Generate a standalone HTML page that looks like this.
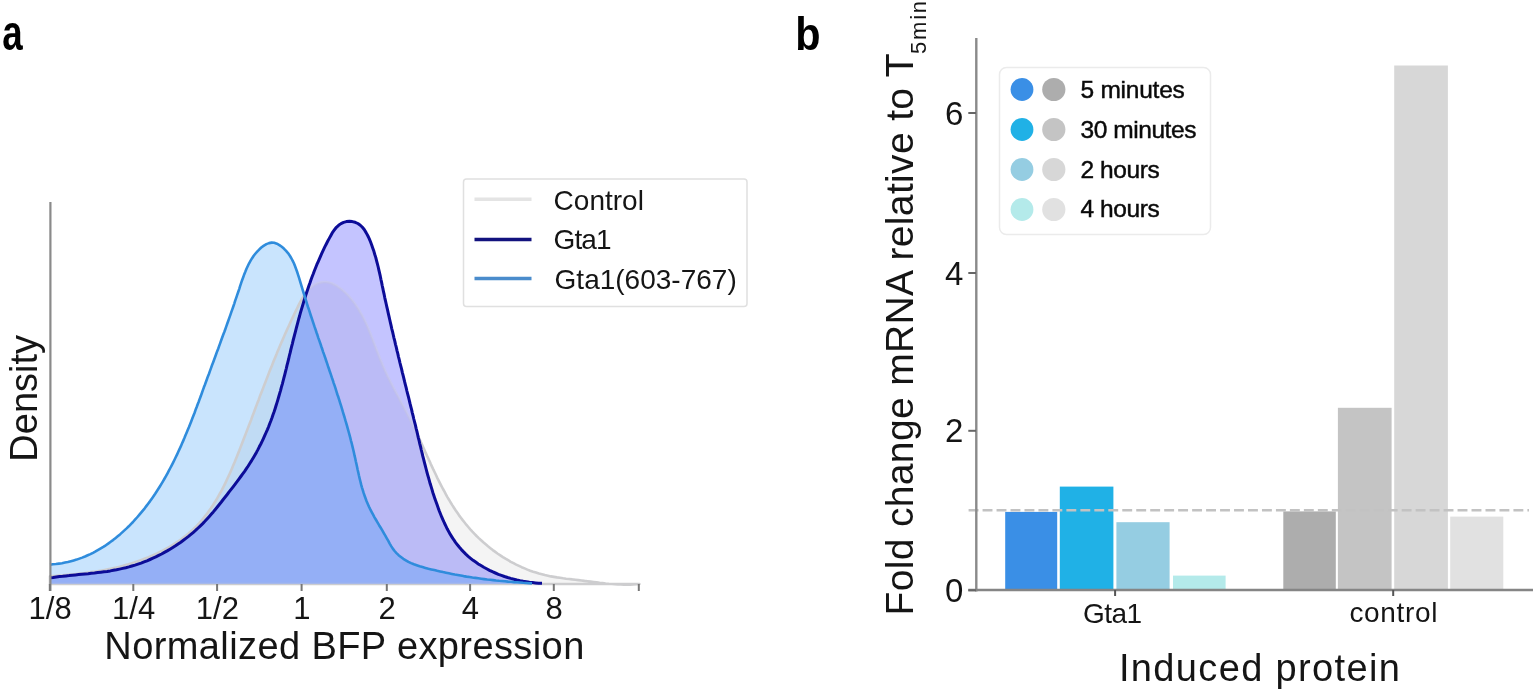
<!DOCTYPE html>
<html><head><meta charset="utf-8"><title>Figure</title><style>
html,body{margin:0;padding:0;background:#fff;width:1536px;height:692px;overflow:hidden}
svg{display:block}
text{font-family:"Liberation Sans",Arial,sans-serif}
</style></head><body>
<svg width="1536" height="692" viewBox="0 0 1536 692">
<rect width="1536" height="692" fill="#fff"/>
<g transform="translate(2.3,49.6) scale(0.74,1)"><text x="0.0" y="0.0" font-size="49.7" font-weight="bold" fill="#000">a</text></g>
<g transform="translate(795.3,49.6) scale(0.89,1)"><text x="0.0" y="0.0" font-size="46.5" font-weight="bold" fill="#000">b</text></g>
<defs><clipPath id="cpP"><path d="M50.0,577.8 L53.2,577.5 L56.3,577.0 L59.5,576.6 L62.7,576.3 L65.9,575.9 L69.1,575.6 L72.3,575.2 L75.4,574.9 L78.6,574.6 L81.8,574.3 L85.0,574.0 L88.2,573.7 L91.3,573.3 L94.5,573.0 L97.7,572.6 L100.8,572.2 L104.0,571.8 L107.1,571.4 L110.3,570.9 L113.4,570.3 L116.5,569.8 L119.6,569.1 L122.7,568.4 L125.8,567.7 L128.9,566.9 L131.9,566.0 L135.0,565.1 L138.0,564.1 L141.1,563.1 L144.1,561.9 L147.0,560.8 L150.0,559.5 L152.9,558.2 L155.8,556.9 L158.7,555.4 L161.6,554.0 L164.4,552.4 L167.2,550.9 L170.0,549.2 L172.8,547.5 L175.5,545.8 L178.1,544.0 L180.8,542.2 L183.4,540.3 L185.9,538.4 L188.5,536.4 L190.9,534.4 L193.4,532.3 L195.8,530.2 L198.1,528.0 L200.4,525.8 L202.7,523.6 L204.9,521.3 L207.0,519.0 L209.1,516.7 L211.2,514.3 L213.3,511.9 L215.3,509.5 L217.3,507.0 L219.3,504.5 L221.3,502.0 L223.2,499.5 L225.2,497.0 L227.2,494.5 L229.1,491.9 L231.1,489.4 L233.1,486.8 L235.0,484.3 L237.0,481.7 L238.9,479.1 L240.8,476.5 L242.7,473.9 L244.6,471.3 L246.4,468.7 L248.2,466.0 L249.9,463.3 L251.6,460.6 L253.2,457.9 L254.8,455.2 L256.4,452.4 L257.9,449.6 L259.3,446.8 L260.8,444.0 L262.2,441.2 L263.5,438.3 L264.8,435.4 L266.1,432.5 L267.4,429.6 L268.6,426.7 L269.7,423.7 L270.9,420.8 L272.0,417.8 L273.0,414.8 L274.1,411.8 L275.1,408.7 L276.0,405.7 L277.0,402.6 L277.9,399.6 L278.8,396.5 L279.7,393.4 L280.6,390.3 L281.4,387.2 L282.3,384.1 L283.1,381.0 L283.9,377.9 L284.7,374.8 L285.5,371.6 L286.3,368.5 L287.0,365.4 L287.8,362.3 L288.6,359.2 L289.3,356.0 L290.1,352.9 L290.8,349.8 L291.6,346.7 L292.4,343.6 L293.1,340.5 L293.9,337.5 L294.7,334.4 L295.5,331.3 L296.3,328.2 L297.1,325.2 L297.9,322.1 L298.7,319.0 L299.6,316.0 L300.4,312.9 L301.3,309.9 L302.2,306.9 L303.1,303.8 L304.0,300.8 L305.0,297.8 L305.9,294.7 L306.9,291.7 L307.9,288.7 L308.9,285.7 L310.0,282.7 L311.0,279.7 L312.1,276.7 L313.3,273.7 L314.4,270.7 L315.6,267.7 L316.8,264.7 L318.1,261.8 L319.4,258.8 L320.7,255.8 L322.0,252.8 L323.4,249.9 L324.8,246.9 L326.3,244.0 L327.8,241.0 L329.4,238.1 L331.0,235.2 L332.6,232.3 L334.5,229.7 L336.4,227.3 L338.6,225.3 L341.0,223.6 L343.6,222.4 L346.4,221.6 L349.4,221.3 L352.3,221.6 L355.2,222.3 L357.9,223.5 L360.3,225.2 L362.4,227.3 L364.4,229.8 L366.1,232.6 L367.7,235.5 L369.2,238.6 L370.5,241.8 L371.7,245.0 L372.8,248.2 L373.9,251.3 L374.8,254.5 L375.8,257.6 L376.6,260.8 L377.4,263.9 L378.2,267.0 L378.9,270.1 L379.6,273.2 L380.3,276.2 L380.9,279.3 L381.6,282.4 L382.2,285.5 L382.9,288.6 L383.5,291.7 L384.2,294.7 L384.8,297.8 L385.5,300.9 L386.2,304.0 L386.9,307.1 L387.6,310.2 L388.3,313.3 L389.0,316.4 L389.7,319.5 L390.4,322.6 L391.1,325.7 L391.8,328.8 L392.6,331.9 L393.3,335.0 L394.0,338.1 L394.8,341.2 L395.5,344.3 L396.3,347.4 L397.0,350.6 L397.8,353.7 L398.5,356.8 L399.3,359.9 L400.0,363.0 L400.8,366.1 L401.6,369.2 L402.3,372.3 L403.1,375.4 L403.9,378.6 L404.6,381.7 L405.4,384.8 L406.2,387.9 L406.9,391.0 L407.7,394.1 L408.5,397.2 L409.3,400.3 L410.0,403.4 L410.8,406.6 L411.6,409.7 L412.3,412.8 L413.1,415.9 L413.8,419.0 L414.6,422.1 L415.4,425.2 L416.1,428.3 L416.9,431.4 L417.6,434.5 L418.3,437.6 L419.1,440.7 L419.8,443.8 L420.6,446.9 L421.3,450.0 L422.1,453.1 L422.8,456.2 L423.6,459.2 L424.4,462.3 L425.2,465.4 L426.0,468.5 L426.8,471.6 L427.6,474.6 L428.5,477.7 L429.4,480.8 L430.2,483.8 L431.2,486.9 L432.1,489.9 L433.0,493.0 L434.0,496.0 L435.0,499.1 L436.1,502.1 L437.2,505.1 L438.3,508.2 L439.4,511.2 L440.6,514.2 L441.8,517.2 L443.1,520.1 L444.4,523.0 L445.8,525.9 L447.2,528.8 L448.7,531.6 L450.3,534.4 L452.0,537.1 L453.7,539.7 L455.5,542.3 L457.4,544.8 L459.4,547.3 L461.4,549.6 L463.6,551.9 L465.8,554.1 L468.2,556.3 L470.6,558.3 L473.1,560.3 L475.7,562.1 L478.3,563.9 L481.0,565.6 L483.8,567.3 L486.6,568.8 L489.5,570.3 L492.4,571.7 L495.4,573.0 L498.4,574.3 L501.4,575.4 L504.5,576.5 L507.6,577.5 L510.7,578.4 L513.8,579.2 L516.9,580.0 L520.1,580.7 L523.2,581.3 L526.3,581.8 L529.4,582.3 L532.6,582.6 L535.6,582.9 L538.7,583.2 L542.0,583.3 L542.0,584.0 L50.0,584.0 Z"/></clipPath><mask id="mkP"><rect width="1536" height="692" fill="#fff"/><path d="M50.0,577.8 L53.2,577.5 L56.3,577.0 L59.5,576.6 L62.7,576.3 L65.9,575.9 L69.1,575.6 L72.3,575.2 L75.4,574.9 L78.6,574.6 L81.8,574.3 L85.0,574.0 L88.2,573.7 L91.3,573.3 L94.5,573.0 L97.7,572.6 L100.8,572.2 L104.0,571.8 L107.1,571.4 L110.3,570.9 L113.4,570.3 L116.5,569.8 L119.6,569.1 L122.7,568.4 L125.8,567.7 L128.9,566.9 L131.9,566.0 L135.0,565.1 L138.0,564.1 L141.1,563.1 L144.1,561.9 L147.0,560.8 L150.0,559.5 L152.9,558.2 L155.8,556.9 L158.7,555.4 L161.6,554.0 L164.4,552.4 L167.2,550.9 L170.0,549.2 L172.8,547.5 L175.5,545.8 L178.1,544.0 L180.8,542.2 L183.4,540.3 L185.9,538.4 L188.5,536.4 L190.9,534.4 L193.4,532.3 L195.8,530.2 L198.1,528.0 L200.4,525.8 L202.7,523.6 L204.9,521.3 L207.0,519.0 L209.1,516.7 L211.2,514.3 L213.3,511.9 L215.3,509.5 L217.3,507.0 L219.3,504.5 L221.3,502.0 L223.2,499.5 L225.2,497.0 L227.2,494.5 L229.1,491.9 L231.1,489.4 L233.1,486.8 L235.0,484.3 L237.0,481.7 L238.9,479.1 L240.8,476.5 L242.7,473.9 L244.6,471.3 L246.4,468.7 L248.2,466.0 L249.9,463.3 L251.6,460.6 L253.2,457.9 L254.8,455.2 L256.4,452.4 L257.9,449.6 L259.3,446.8 L260.8,444.0 L262.2,441.2 L263.5,438.3 L264.8,435.4 L266.1,432.5 L267.4,429.6 L268.6,426.7 L269.7,423.7 L270.9,420.8 L272.0,417.8 L273.0,414.8 L274.1,411.8 L275.1,408.7 L276.0,405.7 L277.0,402.6 L277.9,399.6 L278.8,396.5 L279.7,393.4 L280.6,390.3 L281.4,387.2 L282.3,384.1 L283.1,381.0 L283.9,377.9 L284.7,374.8 L285.5,371.6 L286.3,368.5 L287.0,365.4 L287.8,362.3 L288.6,359.2 L289.3,356.0 L290.1,352.9 L290.8,349.8 L291.6,346.7 L292.4,343.6 L293.1,340.5 L293.9,337.5 L294.7,334.4 L295.5,331.3 L296.3,328.2 L297.1,325.2 L297.9,322.1 L298.7,319.0 L299.6,316.0 L300.4,312.9 L301.3,309.9 L302.2,306.9 L303.1,303.8 L304.0,300.8 L305.0,297.8 L305.9,294.7 L306.9,291.7 L307.9,288.7 L308.9,285.7 L310.0,282.7 L311.0,279.7 L312.1,276.7 L313.3,273.7 L314.4,270.7 L315.6,267.7 L316.8,264.7 L318.1,261.8 L319.4,258.8 L320.7,255.8 L322.0,252.8 L323.4,249.9 L324.8,246.9 L326.3,244.0 L327.8,241.0 L329.4,238.1 L331.0,235.2 L332.6,232.3 L334.5,229.7 L336.4,227.3 L338.6,225.3 L341.0,223.6 L343.6,222.4 L346.4,221.6 L349.4,221.3 L352.3,221.6 L355.2,222.3 L357.9,223.5 L360.3,225.2 L362.4,227.3 L364.4,229.8 L366.1,232.6 L367.7,235.5 L369.2,238.6 L370.5,241.8 L371.7,245.0 L372.8,248.2 L373.9,251.3 L374.8,254.5 L375.8,257.6 L376.6,260.8 L377.4,263.9 L378.2,267.0 L378.9,270.1 L379.6,273.2 L380.3,276.2 L380.9,279.3 L381.6,282.4 L382.2,285.5 L382.9,288.6 L383.5,291.7 L384.2,294.7 L384.8,297.8 L385.5,300.9 L386.2,304.0 L386.9,307.1 L387.6,310.2 L388.3,313.3 L389.0,316.4 L389.7,319.5 L390.4,322.6 L391.1,325.7 L391.8,328.8 L392.6,331.9 L393.3,335.0 L394.0,338.1 L394.8,341.2 L395.5,344.3 L396.3,347.4 L397.0,350.6 L397.8,353.7 L398.5,356.8 L399.3,359.9 L400.0,363.0 L400.8,366.1 L401.6,369.2 L402.3,372.3 L403.1,375.4 L403.9,378.6 L404.6,381.7 L405.4,384.8 L406.2,387.9 L406.9,391.0 L407.7,394.1 L408.5,397.2 L409.3,400.3 L410.0,403.4 L410.8,406.6 L411.6,409.7 L412.3,412.8 L413.1,415.9 L413.8,419.0 L414.6,422.1 L415.4,425.2 L416.1,428.3 L416.9,431.4 L417.6,434.5 L418.3,437.6 L419.1,440.7 L419.8,443.8 L420.6,446.9 L421.3,450.0 L422.1,453.1 L422.8,456.2 L423.6,459.2 L424.4,462.3 L425.2,465.4 L426.0,468.5 L426.8,471.6 L427.6,474.6 L428.5,477.7 L429.4,480.8 L430.2,483.8 L431.2,486.9 L432.1,489.9 L433.0,493.0 L434.0,496.0 L435.0,499.1 L436.1,502.1 L437.2,505.1 L438.3,508.2 L439.4,511.2 L440.6,514.2 L441.8,517.2 L443.1,520.1 L444.4,523.0 L445.8,525.9 L447.2,528.8 L448.7,531.6 L450.3,534.4 L452.0,537.1 L453.7,539.7 L455.5,542.3 L457.4,544.8 L459.4,547.3 L461.4,549.6 L463.6,551.9 L465.8,554.1 L468.2,556.3 L470.6,558.3 L473.1,560.3 L475.7,562.1 L478.3,563.9 L481.0,565.6 L483.8,567.3 L486.6,568.8 L489.5,570.3 L492.4,571.7 L495.4,573.0 L498.4,574.3 L501.4,575.4 L504.5,576.5 L507.6,577.5 L510.7,578.4 L513.8,579.2 L516.9,580.0 L520.1,580.7 L523.2,581.3 L526.3,581.8 L529.4,582.3 L532.6,582.6 L535.6,582.9 L538.7,583.2 L542.0,583.3 L542.0,584.0 L50.0,584.0 Z" fill="#000"/></mask></defs>
<path d="M50.0,576.3 L53.0,576.1 L56.1,575.9 L59.2,575.6 L62.3,575.4 L65.4,575.1 L68.5,574.8 L71.6,574.5 L74.6,574.2 L77.7,573.9 L80.7,573.5 L83.8,573.2 L86.8,572.8 L89.8,572.4 L92.8,571.9 L95.8,571.5 L98.8,571.0 L101.8,570.5 L104.8,569.9 L107.8,569.3 L110.8,568.7 L113.7,568.1 L116.7,567.4 L119.6,566.7 L122.5,565.9 L125.5,565.1 L128.4,564.3 L131.3,563.4 L134.2,562.5 L137.1,561.5 L140.0,560.5 L142.8,559.5 L145.7,558.3 L148.6,557.2 L151.4,556.0 L154.3,554.7 L157.1,553.4 L159.9,552.0 L162.7,550.6 L165.4,549.1 L168.1,547.6 L170.8,546.0 L173.5,544.4 L176.1,542.7 L178.7,541.0 L181.2,539.2 L183.7,537.3 L186.1,535.4 L188.5,533.5 L190.8,531.4 L193.1,529.4 L195.3,527.3 L197.4,525.1 L199.5,522.9 L201.5,520.6 L203.4,518.3 L205.3,515.9 L207.2,513.5 L208.9,511.1 L210.7,508.6 L212.4,506.1 L214.0,503.5 L215.6,501.0 L217.2,498.3 L218.7,495.7 L220.2,493.0 L221.7,490.3 L223.1,487.6 L224.5,484.8 L225.8,482.1 L227.1,479.3 L228.4,476.5 L229.7,473.7 L231.0,470.8 L232.2,468.0 L233.4,465.1 L234.6,462.3 L235.7,459.4 L236.9,456.5 L238.0,453.7 L239.2,450.8 L240.3,447.9 L241.4,445.1 L242.5,442.2 L243.6,439.3 L244.7,436.5 L245.8,433.6 L246.9,430.8 L248.0,427.9 L249.1,425.1 L250.2,422.2 L251.3,419.4 L252.3,416.5 L253.4,413.7 L254.5,410.8 L255.5,408.0 L256.6,405.1 L257.7,402.3 L258.8,399.5 L259.8,396.6 L260.9,393.8 L262.0,391.0 L263.1,388.1 L264.2,385.3 L265.3,382.5 L266.4,379.6 L267.5,376.8 L268.6,373.9 L269.7,371.1 L270.8,368.3 L272.0,365.4 L273.1,362.6 L274.2,359.8 L275.4,356.9 L276.6,354.1 L277.7,351.3 L278.9,348.4 L280.1,345.6 L281.3,342.8 L282.6,339.9 L283.8,337.1 L285.0,334.2 L286.3,331.4 L287.6,328.5 L288.9,325.7 L290.2,322.8 L291.5,320.0 L292.9,317.1 L294.2,314.3 L295.6,311.4 L297.0,308.5 L298.4,305.7 L299.8,302.8 L301.3,300.0 L302.9,297.3 L304.6,294.7 L306.4,292.3 L308.3,290.0 L310.4,287.9 L312.6,286.1 L315.1,284.5 L317.7,283.3 L320.5,282.4 L323.3,282.0 L326.1,282.0 L328.8,282.5 L331.6,283.3 L334.2,284.5 L336.9,285.9 L339.4,287.7 L341.9,289.6 L344.3,291.7 L346.6,293.9 L348.8,296.2 L350.8,298.5 L352.8,301.0 L354.7,303.4 L356.4,306.0 L358.1,308.5 L359.7,311.2 L361.2,313.8 L362.7,316.5 L364.1,319.3 L365.4,322.0 L366.7,324.8 L367.9,327.6 L369.1,330.5 L370.3,333.3 L371.4,336.2 L372.5,339.1 L373.6,342.0 L374.7,344.9 L375.8,347.8 L376.9,350.7 L378.0,353.5 L379.1,356.4 L380.2,359.3 L381.4,362.1 L382.6,365.0 L383.8,367.8 L385.0,370.5 L386.3,373.3 L387.6,376.1 L389.0,378.8 L390.3,381.5 L391.7,384.2 L393.1,387.0 L394.5,389.7 L395.9,392.4 L397.3,395.0 L398.8,397.7 L400.2,400.4 L401.6,403.1 L403.1,405.8 L404.5,408.5 L405.9,411.2 L407.3,413.9 L408.7,416.6 L410.1,419.4 L411.5,422.1 L412.8,424.9 L414.2,427.6 L415.5,430.4 L416.8,433.2 L418.1,436.0 L419.4,438.8 L420.6,441.6 L421.9,444.4 L423.2,447.2 L424.5,450.1 L425.7,452.9 L427.0,455.7 L428.3,458.5 L429.6,461.3 L430.8,464.1 L432.1,466.9 L433.4,469.7 L434.8,472.5 L436.1,475.3 L437.4,478.1 L438.8,480.8 L440.2,483.6 L441.6,486.3 L443.0,489.0 L444.5,491.7 L445.9,494.4 L447.4,497.1 L449.0,499.7 L450.5,502.3 L452.1,504.9 L453.8,507.5 L455.4,510.0 L457.2,512.6 L458.9,515.1 L460.7,517.5 L462.5,519.9 L464.4,522.3 L466.3,524.7 L468.3,527.0 L470.3,529.3 L472.4,531.6 L474.5,533.8 L476.6,536.0 L478.8,538.1 L481.1,540.2 L483.3,542.3 L485.7,544.3 L488.0,546.3 L490.4,548.2 L492.8,550.1 L495.3,551.9 L497.8,553.7 L500.3,555.4 L502.9,557.1 L505.5,558.7 L508.1,560.2 L510.8,561.8 L513.5,563.2 L516.2,564.6 L519.0,565.9 L521.7,567.2 L524.6,568.4 L527.4,569.6 L530.2,570.7 L533.1,571.7 L536.0,572.6 L539.0,573.5 L541.9,574.3 L544.9,575.1 L547.9,575.7 L550.9,576.4 L553.9,576.9 L557.0,577.4 L560.0,577.8 L563.1,578.3 L566.1,578.7 L569.2,579.0 L572.3,579.4 L575.3,579.7 L578.4,580.1 L581.4,580.5 L584.5,580.9 L587.5,581.2 L590.5,581.6 L593.6,582.0 L596.6,582.4 L599.6,582.8 L602.6,583.1 L605.6,583.5 L608.7,583.8 L611.7,584.0 L614.7,584.2 L617.8,584.4 L620.8,584.5 L623.9,584.6 L627.0,584.6 L630.1,584.6 L633.2,584.4 L636.3,584.2 L639.4,584.0 L639.4,584.0 L50.0,584.0 Z" fill="rgb(192,192,196)" fill-opacity="0.18" stroke="none"/>
<path d="M50.0,577.8 L53.2,577.5 L56.3,577.0 L59.5,576.6 L62.7,576.3 L65.9,575.9 L69.1,575.6 L72.3,575.2 L75.4,574.9 L78.6,574.6 L81.8,574.3 L85.0,574.0 L88.2,573.7 L91.3,573.3 L94.5,573.0 L97.7,572.6 L100.8,572.2 L104.0,571.8 L107.1,571.4 L110.3,570.9 L113.4,570.3 L116.5,569.8 L119.6,569.1 L122.7,568.4 L125.8,567.7 L128.9,566.9 L131.9,566.0 L135.0,565.1 L138.0,564.1 L141.1,563.1 L144.1,561.9 L147.0,560.8 L150.0,559.5 L152.9,558.2 L155.8,556.9 L158.7,555.4 L161.6,554.0 L164.4,552.4 L167.2,550.9 L170.0,549.2 L172.8,547.5 L175.5,545.8 L178.1,544.0 L180.8,542.2 L183.4,540.3 L185.9,538.4 L188.5,536.4 L190.9,534.4 L193.4,532.3 L195.8,530.2 L198.1,528.0 L200.4,525.8 L202.7,523.6 L204.9,521.3 L207.0,519.0 L209.1,516.7 L211.2,514.3 L213.3,511.9 L215.3,509.5 L217.3,507.0 L219.3,504.5 L221.3,502.0 L223.2,499.5 L225.2,497.0 L227.2,494.5 L229.1,491.9 L231.1,489.4 L233.1,486.8 L235.0,484.3 L237.0,481.7 L238.9,479.1 L240.8,476.5 L242.7,473.9 L244.6,471.3 L246.4,468.7 L248.2,466.0 L249.9,463.3 L251.6,460.6 L253.2,457.9 L254.8,455.2 L256.4,452.4 L257.9,449.6 L259.3,446.8 L260.8,444.0 L262.2,441.2 L263.5,438.3 L264.8,435.4 L266.1,432.5 L267.4,429.6 L268.6,426.7 L269.7,423.7 L270.9,420.8 L272.0,417.8 L273.0,414.8 L274.1,411.8 L275.1,408.7 L276.0,405.7 L277.0,402.6 L277.9,399.6 L278.8,396.5 L279.7,393.4 L280.6,390.3 L281.4,387.2 L282.3,384.1 L283.1,381.0 L283.9,377.9 L284.7,374.8 L285.5,371.6 L286.3,368.5 L287.0,365.4 L287.8,362.3 L288.6,359.2 L289.3,356.0 L290.1,352.9 L290.8,349.8 L291.6,346.7 L292.4,343.6 L293.1,340.5 L293.9,337.5 L294.7,334.4 L295.5,331.3 L296.3,328.2 L297.1,325.2 L297.9,322.1 L298.7,319.0 L299.6,316.0 L300.4,312.9 L301.3,309.9 L302.2,306.9 L303.1,303.8 L304.0,300.8 L305.0,297.8 L305.9,294.7 L306.9,291.7 L307.9,288.7 L308.9,285.7 L310.0,282.7 L311.0,279.7 L312.1,276.7 L313.3,273.7 L314.4,270.7 L315.6,267.7 L316.8,264.7 L318.1,261.8 L319.4,258.8 L320.7,255.8 L322.0,252.8 L323.4,249.9 L324.8,246.9 L326.3,244.0 L327.8,241.0 L329.4,238.1 L331.0,235.2 L332.6,232.3 L334.5,229.7 L336.4,227.3 L338.6,225.3 L341.0,223.6 L343.6,222.4 L346.4,221.6 L349.4,221.3 L352.3,221.6 L355.2,222.3 L357.9,223.5 L360.3,225.2 L362.4,227.3 L364.4,229.8 L366.1,232.6 L367.7,235.5 L369.2,238.6 L370.5,241.8 L371.7,245.0 L372.8,248.2 L373.9,251.3 L374.8,254.5 L375.8,257.6 L376.6,260.8 L377.4,263.9 L378.2,267.0 L378.9,270.1 L379.6,273.2 L380.3,276.2 L380.9,279.3 L381.6,282.4 L382.2,285.5 L382.9,288.6 L383.5,291.7 L384.2,294.7 L384.8,297.8 L385.5,300.9 L386.2,304.0 L386.9,307.1 L387.6,310.2 L388.3,313.3 L389.0,316.4 L389.7,319.5 L390.4,322.6 L391.1,325.7 L391.8,328.8 L392.6,331.9 L393.3,335.0 L394.0,338.1 L394.8,341.2 L395.5,344.3 L396.3,347.4 L397.0,350.6 L397.8,353.7 L398.5,356.8 L399.3,359.9 L400.0,363.0 L400.8,366.1 L401.6,369.2 L402.3,372.3 L403.1,375.4 L403.9,378.6 L404.6,381.7 L405.4,384.8 L406.2,387.9 L406.9,391.0 L407.7,394.1 L408.5,397.2 L409.3,400.3 L410.0,403.4 L410.8,406.6 L411.6,409.7 L412.3,412.8 L413.1,415.9 L413.8,419.0 L414.6,422.1 L415.4,425.2 L416.1,428.3 L416.9,431.4 L417.6,434.5 L418.3,437.6 L419.1,440.7 L419.8,443.8 L420.6,446.9 L421.3,450.0 L422.1,453.1 L422.8,456.2 L423.6,459.2 L424.4,462.3 L425.2,465.4 L426.0,468.5 L426.8,471.6 L427.6,474.6 L428.5,477.7 L429.4,480.8 L430.2,483.8 L431.2,486.9 L432.1,489.9 L433.0,493.0 L434.0,496.0 L435.0,499.1 L436.1,502.1 L437.2,505.1 L438.3,508.2 L439.4,511.2 L440.6,514.2 L441.8,517.2 L443.1,520.1 L444.4,523.0 L445.8,525.9 L447.2,528.8 L448.7,531.6 L450.3,534.4 L452.0,537.1 L453.7,539.7 L455.5,542.3 L457.4,544.8 L459.4,547.3 L461.4,549.6 L463.6,551.9 L465.8,554.1 L468.2,556.3 L470.6,558.3 L473.1,560.3 L475.7,562.1 L478.3,563.9 L481.0,565.6 L483.8,567.3 L486.6,568.8 L489.5,570.3 L492.4,571.7 L495.4,573.0 L498.4,574.3 L501.4,575.4 L504.5,576.5 L507.6,577.5 L510.7,578.4 L513.8,579.2 L516.9,580.0 L520.1,580.7 L523.2,581.3 L526.3,581.8 L529.4,582.3 L532.6,582.6 L535.6,582.9 L538.7,583.2 L542.0,583.3 L542.0,584.0 L50.0,584.0 Z" fill="rgb(0,0,255)" fill-opacity="0.23" stroke="none"/>
<path d="M50.0,564.8 L52.8,564.3 L55.9,564.0 L59.0,563.6 L62.0,563.2 L65.0,562.6 L67.9,562.0 L70.9,561.2 L73.7,560.4 L76.6,559.6 L79.4,558.6 L82.2,557.6 L85.0,556.5 L87.7,555.3 L90.4,554.1 L93.0,552.8 L95.6,551.4 L98.2,549.9 L100.8,548.4 L103.3,546.9 L105.8,545.3 L108.2,543.6 L110.7,541.8 L113.0,540.1 L115.4,538.2 L117.7,536.3 L120.0,534.4 L122.2,532.4 L124.4,530.4 L126.6,528.4 L128.8,526.3 L130.9,524.1 L133.0,522.0 L135.0,519.7 L137.0,517.5 L139.0,515.2 L140.9,512.9 L142.8,510.6 L144.7,508.3 L146.5,505.9 L148.3,503.5 L150.1,501.1 L151.8,498.7 L153.5,496.2 L155.2,493.7 L156.8,491.2 L158.4,488.7 L160.0,486.2 L161.6,483.6 L163.1,481.1 L164.6,478.5 L166.1,475.9 L167.5,473.3 L168.9,470.6 L170.3,468.0 L171.7,465.3 L173.1,462.6 L174.4,460.0 L175.7,457.3 L177.0,454.6 L178.3,451.8 L179.5,449.1 L180.8,446.4 L182.0,443.6 L183.2,440.9 L184.4,438.1 L185.5,435.3 L186.7,432.5 L187.8,429.8 L189.0,427.0 L190.1,424.2 L191.2,421.4 L192.3,418.6 L193.4,415.8 L194.5,413.0 L195.5,410.1 L196.6,407.3 L197.6,404.5 L198.7,401.7 L199.7,398.9 L200.8,396.1 L201.8,393.3 L202.8,390.4 L203.8,387.6 L204.9,384.8 L205.9,382.0 L206.9,379.2 L207.9,376.4 L209.0,373.7 L210.0,370.9 L211.0,368.1 L212.0,365.3 L213.1,362.5 L214.1,359.8 L215.1,357.0 L216.1,354.2 L217.1,351.4 L218.2,348.7 L219.2,345.9 L220.2,343.1 L221.2,340.3 L222.2,337.5 L223.2,334.8 L224.3,332.0 L225.3,329.2 L226.3,326.4 L227.3,323.5 L228.3,320.7 L229.3,317.9 L230.3,315.1 L231.3,312.2 L232.3,309.4 L233.3,306.5 L234.3,303.6 L235.2,300.7 L236.2,297.8 L237.2,294.9 L238.2,292.0 L239.2,289.1 L240.1,286.1 L241.1,283.2 L242.1,280.2 L243.2,277.3 L244.2,274.4 L245.4,271.6 L246.5,268.8 L247.8,266.0 L249.1,263.3 L250.6,260.7 L252.1,258.2 L253.7,255.8 L255.5,253.5 L257.4,251.3 L259.4,249.3 L261.6,247.3 L263.9,245.6 L266.4,244.1 L269.0,243.1 L271.6,242.6 L274.2,242.8 L276.9,243.7 L279.4,245.1 L281.8,246.8 L284.1,248.8 L286.1,250.9 L288.0,253.1 L289.7,255.5 L291.2,258.0 L292.6,260.6 L293.9,263.3 L295.0,266.1 L296.1,269.0 L297.1,271.8 L298.1,274.8 L299.0,277.7 L299.9,280.7 L300.8,283.7 L301.7,286.6 L302.6,289.6 L303.5,292.5 L304.4,295.4 L305.3,298.3 L306.2,301.2 L307.1,304.1 L308.0,307.0 L309.0,309.8 L309.9,312.7 L310.8,315.5 L311.8,318.4 L312.7,321.2 L313.7,324.1 L314.6,326.9 L315.6,329.7 L316.5,332.5 L317.5,335.3 L318.4,338.1 L319.4,340.9 L320.4,343.7 L321.3,346.5 L322.3,349.3 L323.2,352.1 L324.2,354.9 L325.2,357.7 L326.1,360.5 L327.1,363.4 L328.0,366.2 L329.0,369.0 L329.9,371.8 L330.9,374.6 L331.8,377.4 L332.8,380.2 L333.7,383.1 L334.7,385.9 L335.6,388.7 L336.5,391.6 L337.4,394.5 L338.4,397.3 L339.3,400.2 L340.2,403.1 L341.1,405.9 L342.0,408.8 L342.8,411.7 L343.7,414.6 L344.6,417.5 L345.4,420.4 L346.3,423.3 L347.1,426.2 L347.9,429.1 L348.7,432.0 L349.5,434.9 L350.3,437.9 L351.0,440.8 L351.8,443.7 L352.5,446.6 L353.2,449.5 L353.9,452.5 L354.5,455.4 L355.2,458.3 L355.8,461.2 L356.5,464.2 L357.1,467.1 L357.7,470.0 L358.4,472.9 L359.0,475.8 L359.7,478.7 L360.4,481.5 L361.1,484.4 L361.9,487.3 L362.8,490.1 L363.6,492.9 L364.6,495.7 L365.6,498.5 L366.6,501.2 L367.8,504.0 L369.0,506.7 L370.3,509.4 L371.7,512.1 L373.1,514.7 L374.5,517.3 L376.1,520.0 L377.6,522.6 L379.1,525.2 L380.7,527.8 L382.3,530.4 L383.8,533.1 L385.3,535.7 L386.8,538.3 L388.3,540.9 L389.7,543.6 L391.2,546.1 L392.8,548.6 L394.6,551.0 L396.5,553.1 L398.6,555.2 L400.9,557.0 L403.3,558.8 L405.8,560.3 L408.4,561.8 L411.1,563.1 L413.9,564.3 L416.7,565.3 L419.6,566.3 L422.5,567.1 L425.4,567.9 L428.4,568.7 L431.3,569.4 L434.3,570.1 L437.2,570.8 L440.1,571.4 L443.1,572.1 L446.0,572.7 L448.9,573.3 L451.9,573.9 L454.8,574.5 L457.7,575.0 L460.7,575.5 L463.6,576.1 L466.5,576.6 L469.5,577.0 L472.4,577.5 L475.4,577.9 L478.3,578.3 L481.3,578.7 L484.2,579.1 L487.2,579.5 L490.2,579.8 L493.2,580.1 L496.1,580.5 L499.1,580.8 L502.1,581.0 L505.1,581.3 L508.1,581.6 L511.1,581.8 L514.1,582.1 L517.1,582.3 L520.1,582.5 L523.1,582.8 L526.1,583.0 L529.0,583.2 L532.0,583.4 L532.0,584.0 L50.0,584.0 Z" fill="rgb(20,140,245)" fill-opacity="0.23" stroke="none"/>
<path d="M50.0,576.3 L53.0,576.1 L56.1,575.9 L59.2,575.6 L62.3,575.4 L65.4,575.1 L68.5,574.8 L71.6,574.5 L74.6,574.2 L77.7,573.9 L80.7,573.5 L83.8,573.2 L86.8,572.8 L89.8,572.4 L92.8,571.9 L95.8,571.5 L98.8,571.0 L101.8,570.5 L104.8,569.9 L107.8,569.3 L110.8,568.7 L113.7,568.1 L116.7,567.4 L119.6,566.7 L122.5,565.9 L125.5,565.1 L128.4,564.3 L131.3,563.4 L134.2,562.5 L137.1,561.5 L140.0,560.5 L142.8,559.5 L145.7,558.3 L148.6,557.2 L151.4,556.0 L154.3,554.7 L157.1,553.4 L159.9,552.0 L162.7,550.6 L165.4,549.1 L168.1,547.6 L170.8,546.0 L173.5,544.4 L176.1,542.7 L178.7,541.0 L181.2,539.2 L183.7,537.3 L186.1,535.4 L188.5,533.5 L190.8,531.4 L193.1,529.4 L195.3,527.3 L197.4,525.1 L199.5,522.9 L201.5,520.6 L203.4,518.3 L205.3,515.9 L207.2,513.5 L208.9,511.1 L210.7,508.6 L212.4,506.1 L214.0,503.5 L215.6,501.0 L217.2,498.3 L218.7,495.7 L220.2,493.0 L221.7,490.3 L223.1,487.6 L224.5,484.8 L225.8,482.1 L227.1,479.3 L228.4,476.5 L229.7,473.7 L231.0,470.8 L232.2,468.0 L233.4,465.1 L234.6,462.3 L235.7,459.4 L236.9,456.5 L238.0,453.7 L239.2,450.8 L240.3,447.9 L241.4,445.1 L242.5,442.2 L243.6,439.3 L244.7,436.5 L245.8,433.6 L246.9,430.8 L248.0,427.9 L249.1,425.1 L250.2,422.2 L251.3,419.4 L252.3,416.5 L253.4,413.7 L254.5,410.8 L255.5,408.0 L256.6,405.1 L257.7,402.3 L258.8,399.5 L259.8,396.6 L260.9,393.8 L262.0,391.0 L263.1,388.1 L264.2,385.3 L265.3,382.5 L266.4,379.6 L267.5,376.8 L268.6,373.9 L269.7,371.1 L270.8,368.3 L272.0,365.4 L273.1,362.6 L274.2,359.8 L275.4,356.9 L276.6,354.1 L277.7,351.3 L278.9,348.4 L280.1,345.6 L281.3,342.8 L282.6,339.9 L283.8,337.1 L285.0,334.2 L286.3,331.4 L287.6,328.5 L288.9,325.7 L290.2,322.8 L291.5,320.0 L292.9,317.1 L294.2,314.3 L295.6,311.4 L297.0,308.5 L298.4,305.7 L299.8,302.8 L301.3,300.0 L302.9,297.3 L304.6,294.7 L306.4,292.3 L308.3,290.0 L310.4,287.9 L312.6,286.1 L315.1,284.5 L317.7,283.3 L320.5,282.4 L323.3,282.0 L326.1,282.0 L328.8,282.5 L331.6,283.3 L334.2,284.5 L336.9,285.9 L339.4,287.7 L341.9,289.6 L344.3,291.7 L346.6,293.9 L348.8,296.2 L350.8,298.5 L352.8,301.0 L354.7,303.4 L356.4,306.0 L358.1,308.5 L359.7,311.2 L361.2,313.8 L362.7,316.5 L364.1,319.3 L365.4,322.0 L366.7,324.8 L367.9,327.6 L369.1,330.5 L370.3,333.3 L371.4,336.2 L372.5,339.1 L373.6,342.0 L374.7,344.9 L375.8,347.8 L376.9,350.7 L378.0,353.5 L379.1,356.4 L380.2,359.3 L381.4,362.1 L382.6,365.0 L383.8,367.8 L385.0,370.5 L386.3,373.3 L387.6,376.1 L389.0,378.8 L390.3,381.5 L391.7,384.2 L393.1,387.0 L394.5,389.7 L395.9,392.4 L397.3,395.0 L398.8,397.7 L400.2,400.4 L401.6,403.1 L403.1,405.8 L404.5,408.5 L405.9,411.2 L407.3,413.9 L408.7,416.6 L410.1,419.4 L411.5,422.1 L412.8,424.9 L414.2,427.6 L415.5,430.4 L416.8,433.2 L418.1,436.0 L419.4,438.8 L420.6,441.6 L421.9,444.4 L423.2,447.2 L424.5,450.1 L425.7,452.9 L427.0,455.7 L428.3,458.5 L429.6,461.3 L430.8,464.1 L432.1,466.9 L433.4,469.7 L434.8,472.5 L436.1,475.3 L437.4,478.1 L438.8,480.8 L440.2,483.6 L441.6,486.3 L443.0,489.0 L444.5,491.7 L445.9,494.4 L447.4,497.1 L449.0,499.7 L450.5,502.3 L452.1,504.9 L453.8,507.5 L455.4,510.0 L457.2,512.6 L458.9,515.1 L460.7,517.5 L462.5,519.9 L464.4,522.3 L466.3,524.7 L468.3,527.0 L470.3,529.3 L472.4,531.6 L474.5,533.8 L476.6,536.0 L478.8,538.1 L481.1,540.2 L483.3,542.3 L485.7,544.3 L488.0,546.3 L490.4,548.2 L492.8,550.1 L495.3,551.9 L497.8,553.7 L500.3,555.4 L502.9,557.1 L505.5,558.7 L508.1,560.2 L510.8,561.8 L513.5,563.2 L516.2,564.6 L519.0,565.9 L521.7,567.2 L524.6,568.4 L527.4,569.6 L530.2,570.7 L533.1,571.7 L536.0,572.6 L539.0,573.5 L541.9,574.3 L544.9,575.1 L547.9,575.7 L550.9,576.4 L553.9,576.9 L557.0,577.4 L560.0,577.8 L563.1,578.3 L566.1,578.7 L569.2,579.0 L572.3,579.4 L575.3,579.7 L578.4,580.1 L581.4,580.5 L584.5,580.9 L587.5,581.2 L590.5,581.6 L593.6,582.0 L596.6,582.4 L599.6,582.8 L602.6,583.1 L605.6,583.5 L608.7,583.8 L611.7,584.0 L614.7,584.2 L617.8,584.4 L620.8,584.5 L623.9,584.6 L627.0,584.6 L630.1,584.6 L633.2,584.4 L636.3,584.2 L639.4,584.0 L639.4,584.0 L50.0,584.0 Z" fill="none" stroke="#cdcdcf" stroke-width="2.6" stroke-linejoin="round" mask="url(#mkP)"/>
<path d="M50.0,576.3 L53.0,576.1 L56.1,575.9 L59.2,575.6 L62.3,575.4 L65.4,575.1 L68.5,574.8 L71.6,574.5 L74.6,574.2 L77.7,573.9 L80.7,573.5 L83.8,573.2 L86.8,572.8 L89.8,572.4 L92.8,571.9 L95.8,571.5 L98.8,571.0 L101.8,570.5 L104.8,569.9 L107.8,569.3 L110.8,568.7 L113.7,568.1 L116.7,567.4 L119.6,566.7 L122.5,565.9 L125.5,565.1 L128.4,564.3 L131.3,563.4 L134.2,562.5 L137.1,561.5 L140.0,560.5 L142.8,559.5 L145.7,558.3 L148.6,557.2 L151.4,556.0 L154.3,554.7 L157.1,553.4 L159.9,552.0 L162.7,550.6 L165.4,549.1 L168.1,547.6 L170.8,546.0 L173.5,544.4 L176.1,542.7 L178.7,541.0 L181.2,539.2 L183.7,537.3 L186.1,535.4 L188.5,533.5 L190.8,531.4 L193.1,529.4 L195.3,527.3 L197.4,525.1 L199.5,522.9 L201.5,520.6 L203.4,518.3 L205.3,515.9 L207.2,513.5 L208.9,511.1 L210.7,508.6 L212.4,506.1 L214.0,503.5 L215.6,501.0 L217.2,498.3 L218.7,495.7 L220.2,493.0 L221.7,490.3 L223.1,487.6 L224.5,484.8 L225.8,482.1 L227.1,479.3 L228.4,476.5 L229.7,473.7 L231.0,470.8 L232.2,468.0 L233.4,465.1 L234.6,462.3 L235.7,459.4 L236.9,456.5 L238.0,453.7 L239.2,450.8 L240.3,447.9 L241.4,445.1 L242.5,442.2 L243.6,439.3 L244.7,436.5 L245.8,433.6 L246.9,430.8 L248.0,427.9 L249.1,425.1 L250.2,422.2 L251.3,419.4 L252.3,416.5 L253.4,413.7 L254.5,410.8 L255.5,408.0 L256.6,405.1 L257.7,402.3 L258.8,399.5 L259.8,396.6 L260.9,393.8 L262.0,391.0 L263.1,388.1 L264.2,385.3 L265.3,382.5 L266.4,379.6 L267.5,376.8 L268.6,373.9 L269.7,371.1 L270.8,368.3 L272.0,365.4 L273.1,362.6 L274.2,359.8 L275.4,356.9 L276.6,354.1 L277.7,351.3 L278.9,348.4 L280.1,345.6 L281.3,342.8 L282.6,339.9 L283.8,337.1 L285.0,334.2 L286.3,331.4 L287.6,328.5 L288.9,325.7 L290.2,322.8 L291.5,320.0 L292.9,317.1 L294.2,314.3 L295.6,311.4 L297.0,308.5 L298.4,305.7 L299.8,302.8 L301.3,300.0 L302.9,297.3 L304.6,294.7 L306.4,292.3 L308.3,290.0 L310.4,287.9 L312.6,286.1 L315.1,284.5 L317.7,283.3 L320.5,282.4 L323.3,282.0 L326.1,282.0 L328.8,282.5 L331.6,283.3 L334.2,284.5 L336.9,285.9 L339.4,287.7 L341.9,289.6 L344.3,291.7 L346.6,293.9 L348.8,296.2 L350.8,298.5 L352.8,301.0 L354.7,303.4 L356.4,306.0 L358.1,308.5 L359.7,311.2 L361.2,313.8 L362.7,316.5 L364.1,319.3 L365.4,322.0 L366.7,324.8 L367.9,327.6 L369.1,330.5 L370.3,333.3 L371.4,336.2 L372.5,339.1 L373.6,342.0 L374.7,344.9 L375.8,347.8 L376.9,350.7 L378.0,353.5 L379.1,356.4 L380.2,359.3 L381.4,362.1 L382.6,365.0 L383.8,367.8 L385.0,370.5 L386.3,373.3 L387.6,376.1 L389.0,378.8 L390.3,381.5 L391.7,384.2 L393.1,387.0 L394.5,389.7 L395.9,392.4 L397.3,395.0 L398.8,397.7 L400.2,400.4 L401.6,403.1 L403.1,405.8 L404.5,408.5 L405.9,411.2 L407.3,413.9 L408.7,416.6 L410.1,419.4 L411.5,422.1 L412.8,424.9 L414.2,427.6 L415.5,430.4 L416.8,433.2 L418.1,436.0 L419.4,438.8 L420.6,441.6 L421.9,444.4 L423.2,447.2 L424.5,450.1 L425.7,452.9 L427.0,455.7 L428.3,458.5 L429.6,461.3 L430.8,464.1 L432.1,466.9 L433.4,469.7 L434.8,472.5 L436.1,475.3 L437.4,478.1 L438.8,480.8 L440.2,483.6 L441.6,486.3 L443.0,489.0 L444.5,491.7 L445.9,494.4 L447.4,497.1 L449.0,499.7 L450.5,502.3 L452.1,504.9 L453.8,507.5 L455.4,510.0 L457.2,512.6 L458.9,515.1 L460.7,517.5 L462.5,519.9 L464.4,522.3 L466.3,524.7 L468.3,527.0 L470.3,529.3 L472.4,531.6 L474.5,533.8 L476.6,536.0 L478.8,538.1 L481.1,540.2 L483.3,542.3 L485.7,544.3 L488.0,546.3 L490.4,548.2 L492.8,550.1 L495.3,551.9 L497.8,553.7 L500.3,555.4 L502.9,557.1 L505.5,558.7 L508.1,560.2 L510.8,561.8 L513.5,563.2 L516.2,564.6 L519.0,565.9 L521.7,567.2 L524.6,568.4 L527.4,569.6 L530.2,570.7 L533.1,571.7 L536.0,572.6 L539.0,573.5 L541.9,574.3 L544.9,575.1 L547.9,575.7 L550.9,576.4 L553.9,576.9 L557.0,577.4 L560.0,577.8 L563.1,578.3 L566.1,578.7 L569.2,579.0 L572.3,579.4 L575.3,579.7 L578.4,580.1 L581.4,580.5 L584.5,580.9 L587.5,581.2 L590.5,581.6 L593.6,582.0 L596.6,582.4 L599.6,582.8 L602.6,583.1 L605.6,583.5 L608.7,583.8 L611.7,584.0 L614.7,584.2 L617.8,584.4 L620.8,584.5 L623.9,584.6 L627.0,584.6 L630.1,584.6 L633.2,584.4 L636.3,584.2 L639.4,584.0 L639.4,584.0 L50.0,584.0 Z" fill="none" stroke="#cdcdcf" stroke-width="2.6" stroke-linejoin="round" clip-path="url(#cpP)" opacity="0.3"/>
<path d="M50.0,577.8 L53.2,577.5 L56.3,577.0 L59.5,576.6 L62.7,576.3 L65.9,575.9 L69.1,575.6 L72.3,575.2 L75.4,574.9 L78.6,574.6 L81.8,574.3 L85.0,574.0 L88.2,573.7 L91.3,573.3 L94.5,573.0 L97.7,572.6 L100.8,572.2 L104.0,571.8 L107.1,571.4 L110.3,570.9 L113.4,570.3 L116.5,569.8 L119.6,569.1 L122.7,568.4 L125.8,567.7 L128.9,566.9 L131.9,566.0 L135.0,565.1 L138.0,564.1 L141.1,563.1 L144.1,561.9 L147.0,560.8 L150.0,559.5 L152.9,558.2 L155.8,556.9 L158.7,555.4 L161.6,554.0 L164.4,552.4 L167.2,550.9 L170.0,549.2 L172.8,547.5 L175.5,545.8 L178.1,544.0 L180.8,542.2 L183.4,540.3 L185.9,538.4 L188.5,536.4 L190.9,534.4 L193.4,532.3 L195.8,530.2 L198.1,528.0 L200.4,525.8 L202.7,523.6 L204.9,521.3 L207.0,519.0 L209.1,516.7 L211.2,514.3 L213.3,511.9 L215.3,509.5 L217.3,507.0 L219.3,504.5 L221.3,502.0 L223.2,499.5 L225.2,497.0 L227.2,494.5 L229.1,491.9 L231.1,489.4 L233.1,486.8 L235.0,484.3 L237.0,481.7 L238.9,479.1 L240.8,476.5 L242.7,473.9 L244.6,471.3 L246.4,468.7 L248.2,466.0 L249.9,463.3 L251.6,460.6 L253.2,457.9 L254.8,455.2 L256.4,452.4 L257.9,449.6 L259.3,446.8 L260.8,444.0 L262.2,441.2 L263.5,438.3 L264.8,435.4 L266.1,432.5 L267.4,429.6 L268.6,426.7 L269.7,423.7 L270.9,420.8 L272.0,417.8 L273.0,414.8 L274.1,411.8 L275.1,408.7 L276.0,405.7 L277.0,402.6 L277.9,399.6 L278.8,396.5 L279.7,393.4 L280.6,390.3 L281.4,387.2 L282.3,384.1 L283.1,381.0 L283.9,377.9 L284.7,374.8 L285.5,371.6 L286.3,368.5 L287.0,365.4 L287.8,362.3 L288.6,359.2 L289.3,356.0 L290.1,352.9 L290.8,349.8 L291.6,346.7 L292.4,343.6 L293.1,340.5 L293.9,337.5 L294.7,334.4 L295.5,331.3 L296.3,328.2 L297.1,325.2 L297.9,322.1 L298.7,319.0 L299.6,316.0 L300.4,312.9 L301.3,309.9 L302.2,306.9 L303.1,303.8 L304.0,300.8 L305.0,297.8 L305.9,294.7 L306.9,291.7 L307.9,288.7 L308.9,285.7 L310.0,282.7 L311.0,279.7 L312.1,276.7 L313.3,273.7 L314.4,270.7 L315.6,267.7 L316.8,264.7 L318.1,261.8 L319.4,258.8 L320.7,255.8 L322.0,252.8 L323.4,249.9 L324.8,246.9 L326.3,244.0 L327.8,241.0 L329.4,238.1 L331.0,235.2 L332.6,232.3 L334.5,229.7 L336.4,227.3 L338.6,225.3 L341.0,223.6 L343.6,222.4 L346.4,221.6 L349.4,221.3 L352.3,221.6 L355.2,222.3 L357.9,223.5 L360.3,225.2 L362.4,227.3 L364.4,229.8 L366.1,232.6 L367.7,235.5 L369.2,238.6 L370.5,241.8 L371.7,245.0 L372.8,248.2 L373.9,251.3 L374.8,254.5 L375.8,257.6 L376.6,260.8 L377.4,263.9 L378.2,267.0 L378.9,270.1 L379.6,273.2 L380.3,276.2 L380.9,279.3 L381.6,282.4 L382.2,285.5 L382.9,288.6 L383.5,291.7 L384.2,294.7 L384.8,297.8 L385.5,300.9 L386.2,304.0 L386.9,307.1 L387.6,310.2 L388.3,313.3 L389.0,316.4 L389.7,319.5 L390.4,322.6 L391.1,325.7 L391.8,328.8 L392.6,331.9 L393.3,335.0 L394.0,338.1 L394.8,341.2 L395.5,344.3 L396.3,347.4 L397.0,350.6 L397.8,353.7 L398.5,356.8 L399.3,359.9 L400.0,363.0 L400.8,366.1 L401.6,369.2 L402.3,372.3 L403.1,375.4 L403.9,378.6 L404.6,381.7 L405.4,384.8 L406.2,387.9 L406.9,391.0 L407.7,394.1 L408.5,397.2 L409.3,400.3 L410.0,403.4 L410.8,406.6 L411.6,409.7 L412.3,412.8 L413.1,415.9 L413.8,419.0 L414.6,422.1 L415.4,425.2 L416.1,428.3 L416.9,431.4 L417.6,434.5 L418.3,437.6 L419.1,440.7 L419.8,443.8 L420.6,446.9 L421.3,450.0 L422.1,453.1 L422.8,456.2 L423.6,459.2 L424.4,462.3 L425.2,465.4 L426.0,468.5 L426.8,471.6 L427.6,474.6 L428.5,477.7 L429.4,480.8 L430.2,483.8 L431.2,486.9 L432.1,489.9 L433.0,493.0 L434.0,496.0 L435.0,499.1 L436.1,502.1 L437.2,505.1 L438.3,508.2 L439.4,511.2 L440.6,514.2 L441.8,517.2 L443.1,520.1 L444.4,523.0 L445.8,525.9 L447.2,528.8 L448.7,531.6 L450.3,534.4 L452.0,537.1 L453.7,539.7 L455.5,542.3 L457.4,544.8 L459.4,547.3 L461.4,549.6 L463.6,551.9 L465.8,554.1 L468.2,556.3 L470.6,558.3 L473.1,560.3 L475.7,562.1 L478.3,563.9 L481.0,565.6 L483.8,567.3 L486.6,568.8 L489.5,570.3 L492.4,571.7 L495.4,573.0 L498.4,574.3 L501.4,575.4 L504.5,576.5 L507.6,577.5 L510.7,578.4 L513.8,579.2 L516.9,580.0 L520.1,580.7 L523.2,581.3 L526.3,581.8 L529.4,582.3 L532.6,582.6 L535.6,582.9 L538.7,583.2 L542.0,583.3" fill="none" stroke="#0c0c98" stroke-width="3" stroke-linejoin="round"/>
<path d="M50.0,564.8 L52.8,564.3 L55.9,564.0 L59.0,563.6 L62.0,563.2 L65.0,562.6 L67.9,562.0 L70.9,561.2 L73.7,560.4 L76.6,559.6 L79.4,558.6 L82.2,557.6 L85.0,556.5 L87.7,555.3 L90.4,554.1 L93.0,552.8 L95.6,551.4 L98.2,549.9 L100.8,548.4 L103.3,546.9 L105.8,545.3 L108.2,543.6 L110.7,541.8 L113.0,540.1 L115.4,538.2 L117.7,536.3 L120.0,534.4 L122.2,532.4 L124.4,530.4 L126.6,528.4 L128.8,526.3 L130.9,524.1 L133.0,522.0 L135.0,519.7 L137.0,517.5 L139.0,515.2 L140.9,512.9 L142.8,510.6 L144.7,508.3 L146.5,505.9 L148.3,503.5 L150.1,501.1 L151.8,498.7 L153.5,496.2 L155.2,493.7 L156.8,491.2 L158.4,488.7 L160.0,486.2 L161.6,483.6 L163.1,481.1 L164.6,478.5 L166.1,475.9 L167.5,473.3 L168.9,470.6 L170.3,468.0 L171.7,465.3 L173.1,462.6 L174.4,460.0 L175.7,457.3 L177.0,454.6 L178.3,451.8 L179.5,449.1 L180.8,446.4 L182.0,443.6 L183.2,440.9 L184.4,438.1 L185.5,435.3 L186.7,432.5 L187.8,429.8 L189.0,427.0 L190.1,424.2 L191.2,421.4 L192.3,418.6 L193.4,415.8 L194.5,413.0 L195.5,410.1 L196.6,407.3 L197.6,404.5 L198.7,401.7 L199.7,398.9 L200.8,396.1 L201.8,393.3 L202.8,390.4 L203.8,387.6 L204.9,384.8 L205.9,382.0 L206.9,379.2 L207.9,376.4 L209.0,373.7 L210.0,370.9 L211.0,368.1 L212.0,365.3 L213.1,362.5 L214.1,359.8 L215.1,357.0 L216.1,354.2 L217.1,351.4 L218.2,348.7 L219.2,345.9 L220.2,343.1 L221.2,340.3 L222.2,337.5 L223.2,334.8 L224.3,332.0 L225.3,329.2 L226.3,326.4 L227.3,323.5 L228.3,320.7 L229.3,317.9 L230.3,315.1 L231.3,312.2 L232.3,309.4 L233.3,306.5 L234.3,303.6 L235.2,300.7 L236.2,297.8 L237.2,294.9 L238.2,292.0 L239.2,289.1 L240.1,286.1 L241.1,283.2 L242.1,280.2 L243.2,277.3 L244.2,274.4 L245.4,271.6 L246.5,268.8 L247.8,266.0 L249.1,263.3 L250.6,260.7 L252.1,258.2 L253.7,255.8 L255.5,253.5 L257.4,251.3 L259.4,249.3 L261.6,247.3 L263.9,245.6 L266.4,244.1 L269.0,243.1 L271.6,242.6 L274.2,242.8 L276.9,243.7 L279.4,245.1 L281.8,246.8 L284.1,248.8 L286.1,250.9 L288.0,253.1 L289.7,255.5 L291.2,258.0 L292.6,260.6 L293.9,263.3 L295.0,266.1 L296.1,269.0 L297.1,271.8 L298.1,274.8 L299.0,277.7 L299.9,280.7 L300.8,283.7 L301.7,286.6 L302.6,289.6 L303.5,292.5 L304.4,295.4 L305.3,298.3 L306.2,301.2 L307.1,304.1 L308.0,307.0 L309.0,309.8 L309.9,312.7 L310.8,315.5 L311.8,318.4 L312.7,321.2 L313.7,324.1 L314.6,326.9 L315.6,329.7 L316.5,332.5 L317.5,335.3 L318.4,338.1 L319.4,340.9 L320.4,343.7 L321.3,346.5 L322.3,349.3 L323.2,352.1 L324.2,354.9 L325.2,357.7 L326.1,360.5 L327.1,363.4 L328.0,366.2 L329.0,369.0 L329.9,371.8 L330.9,374.6 L331.8,377.4 L332.8,380.2 L333.7,383.1 L334.7,385.9 L335.6,388.7 L336.5,391.6 L337.4,394.5 L338.4,397.3 L339.3,400.2 L340.2,403.1 L341.1,405.9 L342.0,408.8 L342.8,411.7 L343.7,414.6 L344.6,417.5 L345.4,420.4 L346.3,423.3 L347.1,426.2 L347.9,429.1 L348.7,432.0 L349.5,434.9 L350.3,437.9 L351.0,440.8 L351.8,443.7 L352.5,446.6 L353.2,449.5 L353.9,452.5 L354.5,455.4 L355.2,458.3 L355.8,461.2 L356.5,464.2 L357.1,467.1 L357.7,470.0 L358.4,472.9 L359.0,475.8 L359.7,478.7 L360.4,481.5 L361.1,484.4 L361.9,487.3 L362.8,490.1 L363.6,492.9 L364.6,495.7 L365.6,498.5 L366.6,501.2 L367.8,504.0 L369.0,506.7 L370.3,509.4 L371.7,512.1 L373.1,514.7 L374.5,517.3 L376.1,520.0 L377.6,522.6 L379.1,525.2 L380.7,527.8 L382.3,530.4 L383.8,533.1 L385.3,535.7 L386.8,538.3 L388.3,540.9 L389.7,543.6 L391.2,546.1 L392.8,548.6 L394.6,551.0 L396.5,553.1 L398.6,555.2 L400.9,557.0 L403.3,558.8 L405.8,560.3 L408.4,561.8 L411.1,563.1 L413.9,564.3 L416.7,565.3 L419.6,566.3 L422.5,567.1 L425.4,567.9 L428.4,568.7 L431.3,569.4 L434.3,570.1 L437.2,570.8 L440.1,571.4 L443.1,572.1 L446.0,572.7 L448.9,573.3 L451.9,573.9 L454.8,574.5 L457.7,575.0 L460.7,575.5 L463.6,576.1 L466.5,576.6 L469.5,577.0 L472.4,577.5 L475.4,577.9 L478.3,578.3 L481.3,578.7 L484.2,579.1 L487.2,579.5 L490.2,579.8 L493.2,580.1 L496.1,580.5 L499.1,580.8 L502.1,581.0 L505.1,581.3 L508.1,581.6 L511.1,581.8 L514.1,582.1 L517.1,582.3 L520.1,582.5 L523.1,582.8 L526.1,583.0 L529.0,583.2 L532.0,583.4" fill="none" stroke="#2f8cdc" stroke-width="2.6" stroke-linejoin="round"/>
<line x1="50.4" y1="202" x2="50.4" y2="591" stroke="#8a8a8a" stroke-width="2.2"/>
<line x1="49.8" y1="584" x2="49.8" y2="591" stroke="#777" stroke-width="2"/>
<line x1="133.3" y1="584" x2="133.3" y2="591" stroke="#777" stroke-width="2"/>
<line x1="217.1" y1="584" x2="217.1" y2="591" stroke="#777" stroke-width="2"/>
<line x1="301.6" y1="584" x2="301.6" y2="591" stroke="#777" stroke-width="2"/>
<line x1="386.8" y1="584" x2="386.8" y2="591" stroke="#777" stroke-width="2"/>
<line x1="470.1" y1="584" x2="470.1" y2="591" stroke="#777" stroke-width="2"/>
<line x1="553.8" y1="584" x2="553.8" y2="591" stroke="#777" stroke-width="2"/>
<line x1="638.8" y1="584" x2="638.8" y2="591" stroke="#777" stroke-width="2"/>
<text x="50.1" y="619.3" font-size="31" text-anchor="middle" fill="#151515">1/8</text>
<text x="133.6" y="619.3" font-size="31" text-anchor="middle" fill="#151515">1/4</text>
<text x="217.4" y="619.3" font-size="31" text-anchor="middle" fill="#151515">1/2</text>
<text x="301.9" y="619.3" font-size="31" text-anchor="middle" fill="#151515">1</text>
<text x="387.1" y="619.3" font-size="31" text-anchor="middle" fill="#151515">2</text>
<text x="470.4" y="619.3" font-size="31" text-anchor="middle" fill="#151515">4</text>
<text x="554.1" y="619.3" font-size="31" text-anchor="middle" fill="#151515">8</text>
<text x="104.3" y="659.4" font-size="38" textLength="480.0" lengthAdjust="spacing" fill="#151515">Normalized BFP expression</text>
<g transform="translate(37.3,461.7) rotate(-90)"><text x="0.0" y="0.0" font-size="38" fill="#151515">Density</text></g>
<rect x="463.5" y="179" width="283.5" height="127.5" rx="3" fill="#fff" fill-opacity="0.85" stroke="#e0e0e0" stroke-width="1.5"/>
<line x1="474.5" y1="199.3" x2="531.5" y2="199.3" stroke="#e4e4e4" stroke-width="3.5"/>
<line x1="474.5" y1="239.4" x2="531.5" y2="239.4" stroke="#12127e" stroke-width="3.5"/>
<line x1="474.5" y1="278.6" x2="531.5" y2="278.6" stroke="#4a8ccc" stroke-width="3.5"/>
<text x="553.6" y="209.8" font-size="28" fill="#151515">Control</text>
<text x="553.6" y="249.3" font-size="28" textLength="57.9" lengthAdjust="spacing" fill="#151515">Gta1</text>
<text x="554.6" y="288.6" font-size="28" fill="#151515">Gta1(603-767)</text>
<rect x="1005.2" y="511.9" width="52.0" height="78.4" fill="#3a8fe6"/>
<rect x="1059.8" y="486.6" width="53.6" height="103.7" fill="#20b1e6"/>
<rect x="1116.4" y="522.2" width="53.2" height="68.1" fill="#95cde2"/>
<rect x="1173.0" y="575.6" width="52.6" height="14.7" fill="#b4eaea"/>
<rect x="1283.3" y="511.4" width="52.5" height="78.9" fill="#adadad"/>
<rect x="1337.9" y="407.8" width="53.7" height="182.5" fill="#c4c4c4"/>
<rect x="1394.2" y="65.5" width="53.7" height="524.8" fill="#d7d7d7"/>
<rect x="1450.2" y="516.6" width="53.1" height="73.7" fill="#e1e1e1"/>
<line x1="968.6" y1="510.2" x2="1529" y2="510.2" stroke="#c2c2c2" stroke-width="2.4" stroke-dasharray="9.9,4.07"/>
<line x1="976.3" y1="38" x2="976.3" y2="591.4" stroke="#8a8a8a" stroke-width="2.4"/>
<line x1="968.3" y1="590" x2="1533" y2="590" stroke="#858585" stroke-width="2.4"/>
<line x1="968.3" y1="590.3" x2="976" y2="590.3" stroke="#666" stroke-width="2"/>
<text x="963.3" y="601.8" font-size="33" text-anchor="end" fill="#151515">0</text>
<line x1="968.3" y1="430.8" x2="976" y2="430.8" stroke="#666" stroke-width="2"/>
<text x="963.3" y="442.3" font-size="33" text-anchor="end" fill="#151515">2</text>
<line x1="968.3" y1="273.0" x2="976" y2="273.0" stroke="#666" stroke-width="2"/>
<text x="963.3" y="284.5" font-size="33" text-anchor="end" fill="#151515">4</text>
<line x1="968.3" y1="113.0" x2="976" y2="113.0" stroke="#666" stroke-width="2"/>
<text x="963.3" y="124.5" font-size="33" text-anchor="end" fill="#151515">6</text>
<line x1="1115.1" y1="590" x2="1115.1" y2="596" stroke="#555" stroke-width="2"/>
<line x1="1393.2" y1="590" x2="1393.2" y2="596" stroke="#555" stroke-width="2"/>
<text x="1083.0" y="622.5" font-size="28" textLength="59.2" lengthAdjust="spacing" fill="#151515">Gta1</text>
<text x="1349.4" y="621.7" font-size="28" textLength="88.0" lengthAdjust="spacing" fill="#151515">control</text>
<text x="1118.9" y="681.0" font-size="38" textLength="281.0" lengthAdjust="spacing" fill="#151515">Induced protein</text>
<g transform="translate(912.6,615.5) rotate(-90)"><text x="0.0" y="0.0" font-size="39" textLength="562.2" lengthAdjust="spacing" fill="#151515">Fold change mRNA relative to T</text></g>
<g transform="translate(925.7,54) rotate(-90)"><text x="0.0" y="0.0" font-size="22" textLength="53.1" lengthAdjust="spacing" fill="#151515">5min</text></g>
<rect x="999.5" y="67.5" width="211" height="167" rx="7" fill="#fff" stroke="#ebebeb" stroke-width="1.5"/>
<circle cx="1022" cy="89.5" r="11.4" fill="#3a8fe6"/>
<circle cx="1053.8" cy="89.5" r="11.6" fill="#adadad"/>
<text x="1080.5" y="97.9" font-size="24.5" textLength="104.3" lengthAdjust="spacing" fill="#0a0a0a" stroke="#0a0a0a" stroke-width="0.45">5 minutes</text>
<circle cx="1022" cy="129.5" r="11.4" fill="#20b1e6"/>
<circle cx="1053.8" cy="129.5" r="11.6" fill="#c4c4c4"/>
<text x="1080.5" y="138.0" font-size="24.5" textLength="115.9" lengthAdjust="spacing" fill="#0a0a0a" stroke="#0a0a0a" stroke-width="0.45">30 minutes</text>
<circle cx="1022" cy="169.5" r="11.4" fill="#95cde2"/>
<circle cx="1053.8" cy="169.5" r="11.6" fill="#d7d7d7"/>
<text x="1080.5" y="177.9" font-size="24.5" textLength="79.2" lengthAdjust="spacing" fill="#0a0a0a" stroke="#0a0a0a" stroke-width="0.45">2 hours</text>
<circle cx="1022" cy="209.5" r="11.4" fill="#b4eaea"/>
<circle cx="1053.8" cy="209.5" r="11.6" fill="#e1e1e1"/>
<text x="1080.5" y="217.4" font-size="24.5" textLength="79.2" lengthAdjust="spacing" fill="#0a0a0a" stroke="#0a0a0a" stroke-width="0.45">4 hours</text>
</svg>
</body></html>
